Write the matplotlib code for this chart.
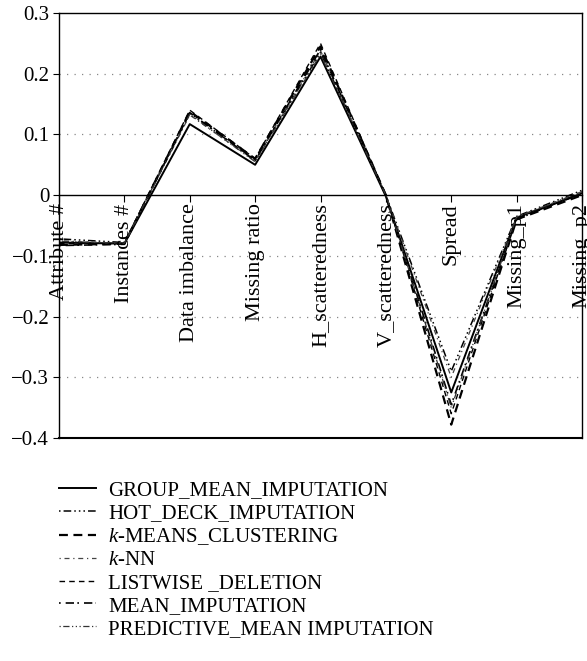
import matplotlib
matplotlib.use("Agg")
import matplotlib.pyplot as plt
import numpy as np

plt.rcParams['font.family'] = ['Liberation Serif', 'DejaVu Serif']
plt.rcParams['mathtext.fontset'] = 'custom'
plt.rcParams['mathtext.it'] = 'Liberation Serif:italic'
plt.rcParams['mathtext.rm'] = 'Liberation Serif'

categories = ["Attribute #", "Instances #", "Data imbalance", "Missing ratio",
              "H_scatteredness", "V_scatteredness", "Spread", "Missing_p1", "Missing_p2"]

group_mean = [-0.078, -0.080, 0.117, 0.050, 0.228, -0.002, -0.325, -0.037, 0.003]
hot_deck = [-0.072, -0.078, 0.135, 0.058, 0.235, 0.000, -0.290, -0.035, 0.008]
kmeans = [-0.082, -0.080, 0.138, 0.060, 0.245, 0.000, -0.378, -0.040, 0.000]
knn = [-0.075, -0.080, 0.132, 0.056, 0.238, 0.000, -0.300, -0.036, 0.006]
listwise = [-0.080, -0.079, 0.140, 0.060, 0.250, 0.000, -0.360, -0.038, 0.002]
mean_imp = [-0.083, -0.081, 0.136, 0.057, 0.240, 0.000, -0.345, -0.040, 0.004]
predictive = [-0.076, -0.079, 0.133, 0.055, 0.232, 0.000, -0.350, -0.036, 0.005]

labels = ["GROUP_MEAN_IMPUTATION", "HOT_DECK_IMPUTATION", "$k$-MEANS_CLUSTERING",
          "$k$-NN", "LISTWISE _DELETION", "MEAN_IMPUTATION", "PREDICTIVE_MEAN IMPUTATION"]

series = [group_mean, hot_deck, kmeans, knn, listwise, mean_imp, predictive]
styles = [
    dict(linestyle='-', lw=1.4, color='black'),
    dict(linestyle=(0, (1, 2, 5, 2, 1, 2, 1, 2)), lw=1.1, color='black'),
    dict(linestyle=(0, (4, 2.5)), lw=1.6, color='black'),
    dict(linestyle=(0, (1, 3, 4, 3)), lw=0.9, color='#444444'),
    dict(linestyle=(0, (4, 3)), lw=1.0, color='black'),
    dict(linestyle=(0, (1, 3, 5, 2)), lw=1.2, color='black'),
    dict(linestyle=(0, (1, 2, 5, 2, 1, 2, 1, 2)), lw=0.9, color='#333333'),
]

fig = plt.figure(figsize=(5.87, 6.61), dpi=100)
ax = fig.add_axes([59/587, 1-438/661, (582-59)/587, (438-13)/661])

x = np.arange(len(categories))
handles = []
for vals, st, lab in zip(series, styles, labels):
    h, = ax.plot(x, vals, label=lab, **st)
    handles.append(h)

ax.set_xlim(0, len(categories)-1)
ax.set_ylim(-0.4, 0.3)
ax.set_yticks([-0.4, -0.3, -0.2, -0.1, 0, 0.1, 0.2, 0.3])
ax.set_yticklabels(["\u22120.4", "\u22120.3", "\u22120.2", "\u22120.1", "0", "0.1", "0.2", "0.3"], fontsize=15)
for yv in [-0.3, -0.2, -0.1, 0.1, 0.2]:
    ax.axhline(yv, color='#888888', lw=0.9, linestyle=(0, (1, 5)), zorder=0)

ax.spines['bottom'].set_position(('data', 0))
ax.spines['bottom'].set_linewidth(1.0)
for s in ['left', 'right', 'top']:
    ax.spines[s].set_linewidth(1.0)
ax.axhline(-0.4, color='black', lw=1.5, clip_on=False)

ax.set_xticks(x)
ax.set_xticklabels(categories, rotation=90, fontsize=16, va='top', ha='center')
ax.tick_params(axis='x', direction='out', length=5, pad=1)
ax.tick_params(axis='y', direction='out', length=4, pad=3)

fig.legend(handles=handles, loc='upper left', bbox_to_anchor=(51/587, 1-472/661),
           frameon=False, fontsize=15, handlelength=1.75, handletextpad=0.6,
           labelspacing=0.16, borderaxespad=0)

fig.savefig("out.png", dpi=100)
